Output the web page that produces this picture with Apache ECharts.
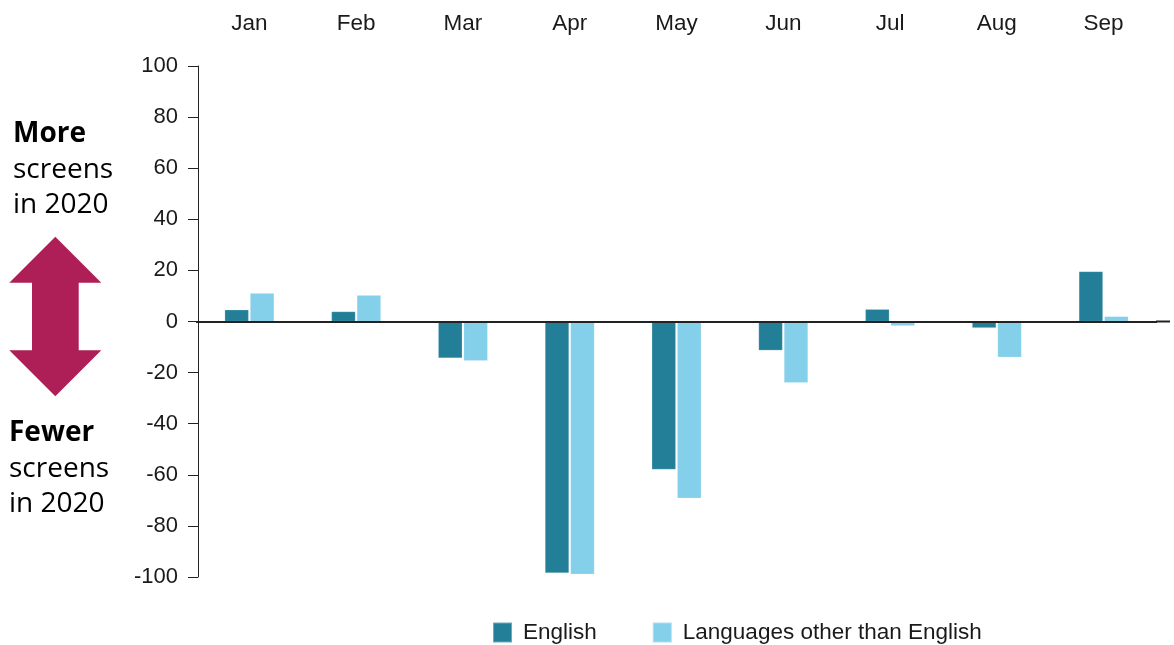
<!DOCTYPE html>
<html>
<head>
<meta charset="utf-8">
<script src="https://cdn.jsdelivr.net/npm/echarts@6/dist/echarts.min.js"></script>
<style>
html,body{margin:0;padding:0;background:#fff;}
#chart{width:1174px;height:645px;}
</style>
</head>
<body>
<div id="chart"></div>
<script>
const months = ['Jan','Feb','Mar','Apr','May','Jun','Jul','Aug','Sep'];
const englishValues = [4.6, 3.9, -14.3, -98.4, -57.9, -11.3, 4.8, -2.5, 19.6];
const otherValues = [11.1, 10.3, -15.4, -98.9, -69.2, -24.0, -1.7, -14.0, 2.0];
const yTicks = {min: -100, max: 100, interval: 20};
const seriesNames = ['English', 'Languages other than English'];

const chart = echarts.init(document.getElementById('chart'), null, {renderer: 'canvas'});
const txt = '#1a1a1a';
const arial = 'Liberation Sans, Arial, sans-serif';
const annFont = '"Open Sans", "Noto Sans", sans-serif';
const option = {
  animation: false,
  backgroundColor: '#fff',
  grid: {left: 196, right: 17, top: 66, bottom: 68},
  legend: {
    data: seriesNames,
    top: 621,
    left: 492,
    padding: 0,
    itemWidth: 19,
    itemHeight: 20,
    itemGap: 55,
    icon: 'rect',
    textStyle: {fontFamily: arial, fontSize: 22.5, color: txt, padding: [0,0,0,6]}
  },
  xAxis: [
    {
      type: 'category', data: months, position: 'top',
      axisLine: {show: false}, axisTick: {show: false},
      axisLabel: {margin: 31, fontFamily: arial, fontSize: 22.5, color: txt}
    },
    {
      type: 'category', data: months, position: 'bottom',
      axisLine: {show: false}, axisTick: {show: false}, axisLabel: {show: false}
    }
  ],
  yAxis: {
    type: 'value', min: yTicks.min, max: yTicks.max, interval: yTicks.interval,
    offset: -2,
    axisLine: {show: true, lineStyle: {color: '#222', width: 1}},
    axisTick: {show: true, length: 10, lineStyle: {color: '#222'}},
    splitLine: {show: false},
    axisLabel: {margin: 20, fontFamily: arial, fontSize: 22, color: txt}
  },
  series: [
    {name: seriesNames[0], type: 'bar', xAxisIndex: 1, data: englishValues, barWidth: 24, barGap: '6%',
     itemStyle: {color: '#237F98', borderColor: 'rgba(255,255,255,0.35)', borderWidth: 0.5},
     markLine: {silent: true, symbol: 'none', label: {show: false},
       lineStyle: {color: '#222', width: 2, type: 'solid'}, data: [{yAxis: 0}]}},
    {name: seriesNames[1], type: 'bar', xAxisIndex: 1, data: otherValues, barWidth: 24,
     itemStyle: {color: '#84CFE9', borderColor: 'rgba(255,255,255,0.35)', borderWidth: 0.5}}
  ],
  graphic: [
    {type: 'line', shape: {x1: 1156, y1: 321.5, x2: 1170, y2: 321.5}, style: {stroke: '#222', lineWidth: 2}},
    {type: 'text', left: 13, top: 120, style: {text: 'More', font: 'bold 28px ' + annFont, fill: '#000'}},
    {type: 'text', left: 13, top: 156, style: {text: 'screens', font: '28px ' + annFont, fill: '#000'}},
    {type: 'text', left: 13, top: 191, style: {text: 'in 2020', font: '28px ' + annFont, fill: '#000'}},
    {type: 'text', left: 9, top: 419, style: {text: 'Fewer', font: 'bold 28px ' + annFont, fill: '#000'}},
    {type: 'text', left: 9, top: 455, style: {text: 'screens', font: '28px ' + annFont, fill: '#000'}},
    {type: 'text', left: 9, top: 490, style: {text: 'in 2020', font: '28px ' + annFont, fill: '#000'}},
    {type: 'polygon', shape: {points: [[55.3,236.7],[101.3,282.7],[78.7,282.7],[78.7,350.3],[101.3,350.3],[55.3,396.3],[9.3,350.3],[32,350.3],[32,282.7],[9.3,282.7]]},
     style: {fill: '#AD1F56'}}
  ]
};
chart.setOption(option);
</script>
</body>
</html>
